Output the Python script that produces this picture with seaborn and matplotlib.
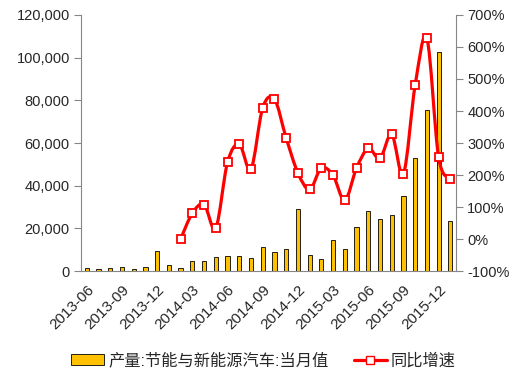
import numpy as np
import pandas as pd
import matplotlib
matplotlib.use("Agg")
import matplotlib.pyplot as plt
from matplotlib.path import Path
from matplotlib.patches import PathPatch, Patch
from matplotlib.lines import Line2D
import seaborn as sns

# 月度数据
months = pd.period_range("2013-06", "2016-01", freq="M").strftime("%Y-%m").tolist()
output = [1600, 1200, 1600, 2100, 1200, 2100, 9400, 3100, 1600, 4700,
          4700, 6400, 7300, 7000, 6100, 11100, 9200, 10200, 28900, 7800,
          5600, 14500, 10300, 20900, 28100, 24200, 26100, 35000, 52800, 75300,
          102500, 23400]
growth = [np.nan] * 8 + [0, 81, 108, 35, 240, 296, 219, 410, 437, 316,
                         207, 155, 222, 199, 121, 222, 283, 252, 327, 204,
                         481, 627, 255, 187]

bar_label = "产量:节能与新能源汽车:当月值"
line_label = "同比增速"

sns.set_style("white")
plt.rcParams["font.family"] = ["Liberation Sans", "Noto Sans CJK SC", "DejaVu Sans"]

df = pd.DataFrame({"month": months, "output": output, "growth": growth})

fig = plt.figure(figsize=(5.22, 3.83), dpi=100)
ax = fig.add_axes([0.155, 0.292, 0.719, 0.669])
sns.barplot(data=df, x="month", y="output", color="#FFC000", width=0.36,
            edgecolor="black", linewidth=0.6, saturation=1, ax=ax)
ax.set_xlim(-0.5, len(months) - 0.5)
ax.set_ylim(0, 120000)
ax.set_yticks(np.arange(0, 120001, 20000))
ax.set_yticklabels([f"{v:,}" for v in range(0, 120001, 20000)], fontsize=10.5)
ax.set_xlabel("")
ax.set_ylabel("")

# x 轴: 刻度线在类别边界, 标签每三个月
ax.set_xticks(np.arange(-0.5, len(months), 3))
ax.set_xticklabels([])
ax.set_xticks(np.arange(0, len(months), 3), minor=True)
ax.set_xticklabels(months[::3], minor=True, rotation=45, ha="right",
                   rotation_mode="anchor", fontsize=11)
ax.tick_params(axis="x", which="major", length=5, color="#868686", direction="out")
ax.tick_params(axis="x", which="minor", length=0, pad=8)
ax.tick_params(axis="y", length=5, color="#868686", direction="out", pad=3)
for s in ["top", "right"]:
    ax.spines[s].set_visible(False)
for s in ["left", "bottom"]:
    ax.spines[s].set_color("#868686")

ax2 = ax.twinx()
ax2.set_ylim(-100, 700)
ax2.set_yticks(np.arange(-100, 701, 100))
ax2.set_yticklabels([f"{v}%" for v in range(-100, 701, 100)], fontsize=10.5)
ax2.tick_params(axis="y", length=5, color="#868686", direction="out", pad=3)
for s in ["top", "left", "bottom"]:
    ax2.spines[s].set_visible(False)
ax2.spines["right"].set_color("#868686")

# 平滑曲线 (Excel 风格贝塞尔)
x = np.arange(len(months), dtype=float)
g = np.array(growth, dtype=float)
ok = ~np.isnan(g)
px, py = x[ok], g[ok]
verts = [(px[0], py[0])]
codes = [Path.MOVETO]
n = len(px)
for i in range(n - 1):
    p0 = (px[max(i - 1, 0)], py[max(i - 1, 0)])
    p1 = (px[i], py[i])
    p2 = (px[i + 1], py[i + 1])
    p3 = (px[min(i + 2, n - 1)], py[min(i + 2, n - 1)])
    c1 = (p1[0] + (p2[0] - p0[0]) / 6, p1[1] + (p2[1] - p0[1]) / 6)
    c2 = (p2[0] - (p3[0] - p1[0]) / 6, p2[1] - (p3[1] - p1[1]) / 6)
    verts += [c1, c2, p2]
    codes += [Path.CURVE4] * 3
ax2.add_patch(PathPatch(Path(verts, codes), facecolor="none", edgecolor="#FF0000",
                        lw=2.3, zorder=3))
ax2.plot(px, py, linestyle="none", marker="s", markersize=5.5,
         markerfacecolor="white", markeredgecolor="#FF0000", markeredgewidth=1.3,
         zorder=4)

handles = [Patch(facecolor="#FFC000", edgecolor="black", linewidth=0.6),
           Line2D([0], [0], color="#FF0000", lw=2.3, marker="s", markersize=5.5,
                  markerfacecolor="white", markeredgecolor="#FF0000")]
fig.legend(handles, [bar_label, line_label], loc="lower center", ncol=2,
           bbox_to_anchor=(0.505, 0.0), frameon=False, fontsize=11.7,
           handlelength=2.0, handletextpad=0.25, columnspacing=1.6)

fig.savefig("out.png", dpi=100)
